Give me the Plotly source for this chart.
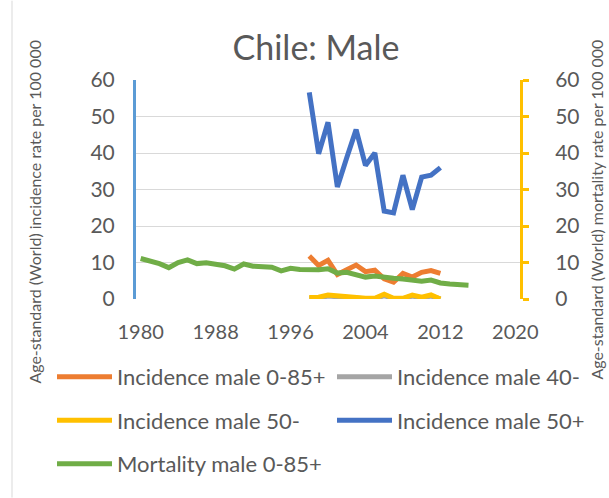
import plotly.graph_objects as go

years_mort = list(range(1980, 2016))
mortality_0_85 = [11.1, 10.4, 9.7, 8.6, 10.0, 10.7, 9.7, 9.9, 9.5, 9.1, 8.2, 9.6, 9.0, 8.9,
                  8.7, 7.7, 8.4, 8.1, 7.9, 8.0, 8.3, 7.1, 7.3, 6.8, 6.0, 6.3, 5.9, 5.7,
                  5.5, 5.2, 4.9, 5.2, 4.4, 4.1, 3.9, 3.8]

years_inc = list(range(1998, 2013))
inc_0_85 = [11.8, 9.2, 10.6, 6.7, 8.0, 9.3, 7.5, 7.9, 5.5, 4.6, 7.0, 6.0, 7.3, 7.8, 7.0]
inc_40m = [0.2, 0.3, 0.8, 0.6, 0.3, 0.1, 0.1, 0.1, 0.9, 0.1, 0.1, 0.8, 0.3, 0.8, 0.0]
inc_50m = [0.4, 0.5, 1.1, 0.9, 0.5, 0.2, 0.2, 0.2, 1.3, 0.2, 0.2, 1.1, 0.5, 1.1, 0.0]
inc_50p = [56.6, 39.8, 48.4, 30.7, 38.7, 46.4, 36.6, 40.0, 24.1, 23.6, 33.9, 24.5, 33.4, 33.9, 36.0]

x_ticks = [1980, 1988, 1996, 2004, 2012, 2020]
y_ticks = [0, 10, 20, 30, 40, 50, 60]

FONT = "Lato"
TXT = "#595959"
LW = 5

W, H = 609, 498
L, R, T, B = 136, 520, 79.5, 299
pw, ph = R - L, B - T

def px(x):
    return (x - L) / pw

def py(y):
    return (B - y) / ph

fig = go.Figure()

series = [
    ("Incidence male 0-85+", years_inc, inc_0_85, "#ED7D31", "y", "legend"),
    ("Incidence male 40-", years_inc, inc_40m, "#A5A5A5", "y", "legend2"),
    ("Incidence male 50-", years_inc, inc_50m, "#FFC000", "y", "legend"),
    ("Incidence male 50+", years_inc, inc_50p, "#4472C4", "y", "legend2"),
    ("Mortality male 0-85+", years_mort, mortality_0_85, "#70AD47", "y2", "legend"),
]
for i, (name, xs, ys, col, yax, leg) in enumerate(series):
    fig.add_trace(go.Scatter(
        x=xs, y=ys, name=name, mode="lines",
        line=dict(color=col, width=LW),
        yaxis=yax, legend=leg, legendgroup="g%d" % i,
        hoverinfo="skip",
    ))

legend_common = dict(
    orientation="v", itemwidth=55, tracegroupgap=12,
    font=dict(family=FONT, size=22, color=TXT),
    bgcolor="rgba(0,0,0,0)", yanchor="top", xanchor="left",
)

fig.update_layout(
    width=W, height=H,
    margin=dict(l=L, r=W - R, t=T, b=H - B, autoexpand=False),
    paper_bgcolor="white", plot_bgcolor="white",
    font=dict(family=FONT, color=TXT),
    hovermode=False,
    title=dict(text="Chile: Male", x=316 / W, xref="container", xanchor="center",
               y=1 - 48 / H, yref="container", yanchor="middle",
               font=dict(family=FONT, size=34, color=TXT)),
    showlegend=True,
    legend=dict(x=px(52), y=py(356), **legend_common),
    legend2=dict(x=px(332), y=py(356), **legend_common),
    xaxis=dict(range=[1979.5, 2020.5], tickvals=x_ticks, showgrid=False,
               zeroline=False, showline=False, ticks="",
               ticklabelstandoff=19,
               tickfont=dict(family=FONT, size=20, color=TXT)),
    yaxis=dict(range=[0, 60], tickvals=y_ticks, showgrid=True, gridcolor="#D9D9D9",
               gridwidth=1, zeroline=False, showline=True, linecolor="#5B9BD5",
               linewidth=3, ticks="", ticklabelstandoff=14,
               tickfont=dict(family=FONT, size=21, color=TXT)),
    yaxis2=dict(range=[0, 60], tickvals=y_ticks, overlaying="y", side="right",
                showgrid=False, zeroline=False, showline=True, linecolor="#FFC000",
                linewidth=3, ticks="outside", ticklen=6, tickwidth=2.5,
                tickcolor="#FFC000", ticklabelstandoff=22,
                tickfont=dict(family=FONT, size=21, color=TXT)),
    annotations=[
        dict(text="Age-standard (World) incidence rate per 100 000", textangle=-90,
             xref="paper", yref="paper", x=px(35), y=py(37), xanchor="center",
             yanchor="top", showarrow=False,
             font=dict(family=FONT, size=16, color=TXT)),
        dict(text="Age-standard (World) mortality rate per 100 000", textangle=-90,
             xref="paper", yref="paper", x=px(597), y=py(37), xanchor="center",
             yanchor="top", showarrow=False,
             font=dict(family=FONT, size=16, color=TXT)),
    ],
    shapes=[
        dict(type="line", xref="paper", yref="paper", x0=px(12), x1=px(12),
             y0=py(0), y1=py(H), line=dict(color="#D9D9D9", width=1)),
    ],
)

fig.write_html("out.html", config={"displayModeBar": False},
               post_script="document.body.style.margin='0';")
